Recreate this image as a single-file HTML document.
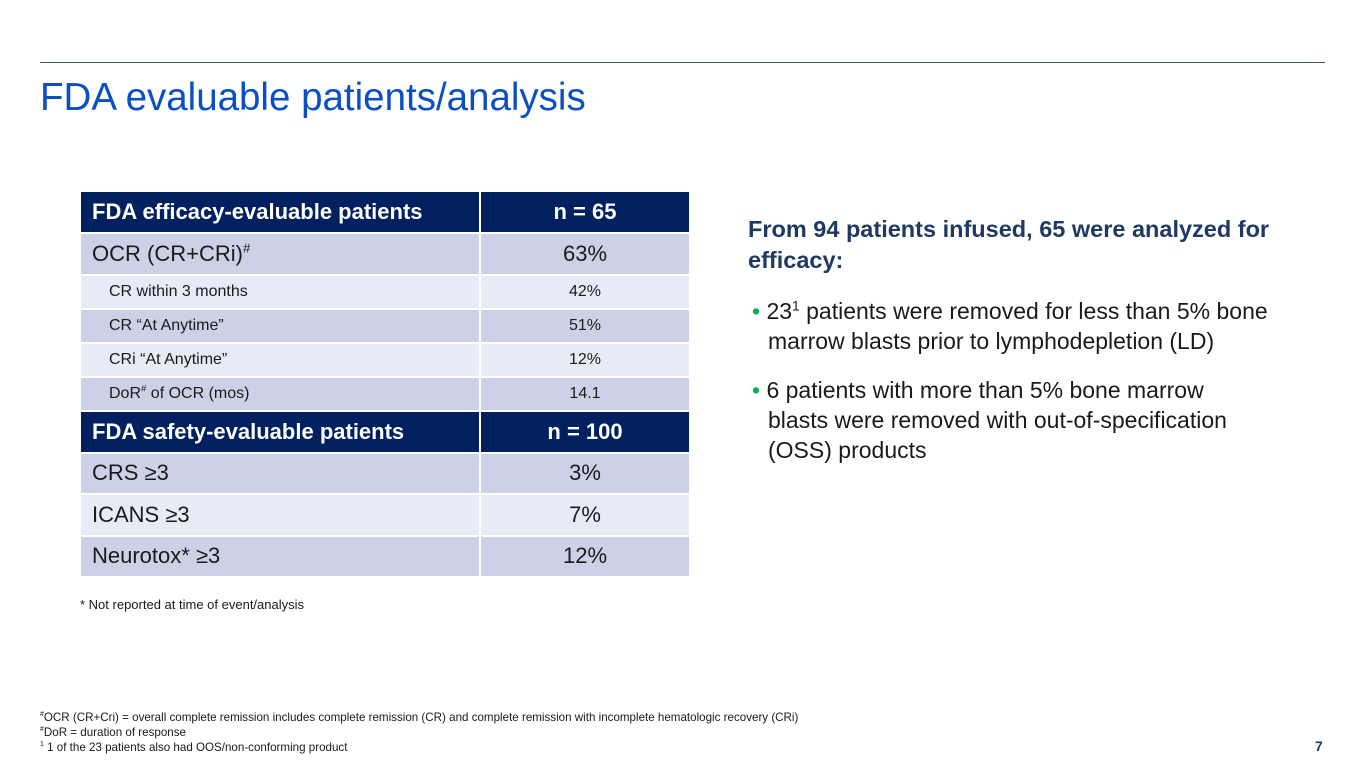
<!DOCTYPE html>
<html><head><meta charset="utf-8"><style>
body{margin:0;width:1365px;height:768px;background:#fff;position:relative;overflow:hidden;font-family:"Liberation Sans",sans-serif;}
.a{position:absolute;white-space:nowrap;}
table{position:absolute;left:79px;top:190px;border-collapse:collapse;width:612px;table-layout:fixed;}
td{border:2px solid #fff;padding:0;color:#1a1a1a;box-sizing:border-box;}
td.l{width:400px;padding-left:11px;}
td.r{text-align:center;}
tr.h td{background:#002060;color:#fff;font-weight:bold;font-size:22px;height:42px;}
tr.d td{background:#cdd1e8;}
tr.w td{background:#e8eaf5;}
tr.big td{font-size:22px;height:41.5px;}
tr.sm td{font-size:16px;height:34px;}
tr.sm td.l{padding-left:28px;}
sup{font-size:60%;line-height:0;}
.bul{color:#1a1a1a;font-size:23px;line-height:30px;}
</style></head><body>
<div class="a" style="left:40px;top:62px;width:1285px;height:1px;background:#44546a;"></div>
<div class="a" style="left:40px;top:76px;font-size:38.5px;color:#0b4fc4;">FDA evaluable patients/analysis</div>
<table>
<tr class="h"><td class="l">FDA efficacy-evaluable patients</td><td class="r">n = 65</td></tr>
<tr class="d big"><td class="l">OCR (CR+CRi)<sup>#</sup></td><td class="r">63%</td></tr>
<tr class="w sm"><td class="l">CR within 3 months</td><td class="r">42%</td></tr>
<tr class="d sm"><td class="l">CR “At Anytime”</td><td class="r">51%</td></tr>
<tr class="w sm"><td class="l">CRi “At Anytime”</td><td class="r">12%</td></tr>
<tr class="d sm"><td class="l">DoR<sup>#</sup> of OCR (mos)</td><td class="r">14.1</td></tr>
<tr class="h"><td class="l">FDA safety-evaluable patients</td><td class="r">n = 100</td></tr>
<tr class="d big"><td class="l">CRS ≥3</td><td class="r">3%</td></tr>
<tr class="w big"><td class="l">ICANS ≥3</td><td class="r">7%</td></tr>
<tr class="d big"><td class="l">Neurotox* ≥3</td><td class="r">12%</td></tr>
</table>
<div class="a" style="left:80px;top:597px;font-size:13px;color:#1a1a1a;">* Not reported at time of event/analysis</div>
<div class="a" style="left:748px;top:214px;font-size:23.5px;line-height:31px;font-weight:bold;color:#1f3864;">From 94 patients infused, 65 were analyzed for<br>efficacy:</div>
<div class="a bul" style="left:752px;top:296px;"><span style="color:#00b050">•</span> 23<sup>1</sup> patients were removed for less than 5% bone<br><span style="padding-left:16px">marrow blasts prior to lymphodepletion (LD)</span></div>
<div class="a bul" style="left:752px;top:375px;"><span style="color:#00b050">•</span> 6 patients with more than 5% bone marrow<br><span style="padding-left:16px">blasts were removed with out-of-specification</span><br><span style="padding-left:16px">(OSS) products</span></div>
<div class="a" style="left:40px;top:710px;font-size:11.6px;line-height:15px;color:#1a1a1a;"><sup>#</sup>OCR (CR+Cri) = overall complete remission includes complete remission (CR) and complete remission with incomplete hematologic recovery (CRi)<br><sup>#</sup>DoR = duration of response<br><sup>1</sup> 1 of the 23 patients also had OOS/non-conforming product</div>
<div class="a" style="left:1315px;top:738px;font-size:14px;font-weight:bold;color:#1f3864;">7</div>
</body></html>
